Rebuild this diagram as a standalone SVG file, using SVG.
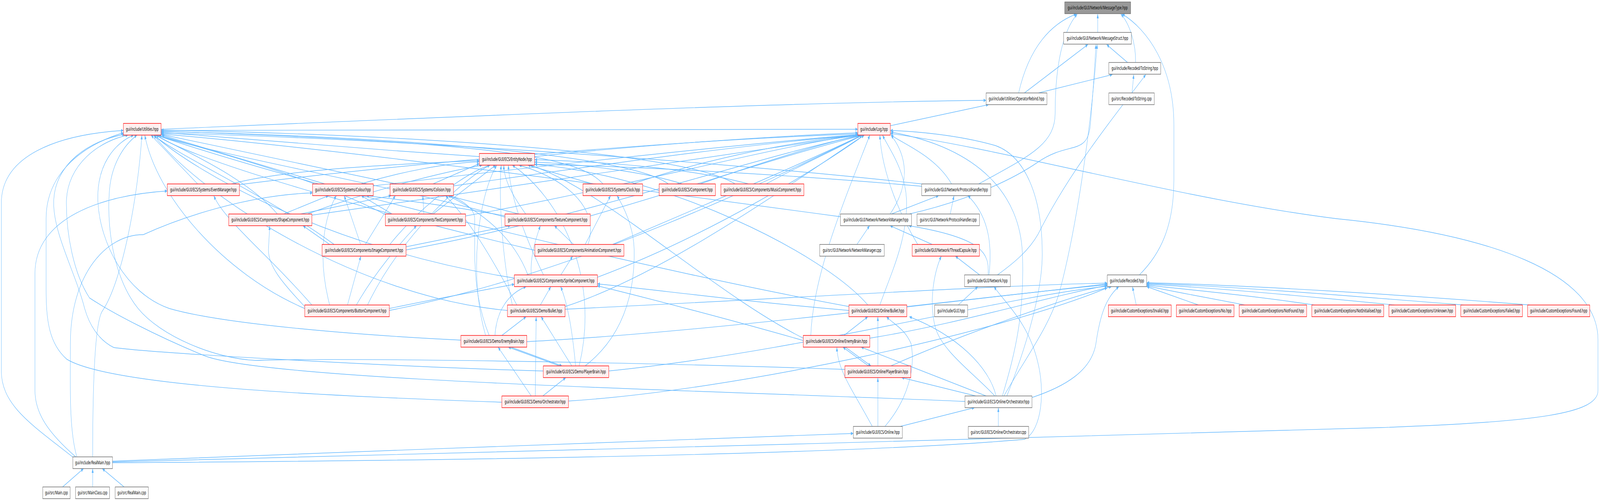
<svg xmlns="http://www.w3.org/2000/svg" width="7183" height="1283" viewBox="0 0 7183 1283" preserveAspectRatio="none">
<style>
:root{width:100vw;height:100vh}
.e{fill:none;stroke:#63b8ff;stroke-width:1.4;marker-end:url(#ah)}
.r rect{fill:#fff0f0;stroke:#ff0000;stroke-width:1.4}
.w rect{fill:#ffffff;stroke:#666666;stroke-width:1.4}
.g rect{fill:#999999;stroke:#666666;stroke-width:1.4}
text{font-family:"Noto Sans","DejaVu Sans",sans-serif;font-size:13px;text-anchor:middle;fill:#000000}
</style>
<defs>
<marker id="ah" viewBox="0 0 11 9" refX="11" refY="4.5" markerWidth="11" markerHeight="9" orient="auto" markerUnits="userSpaceOnUse"><path d="M0,0 L11,4.5 L0,9 z" fill="#63b8ff"/></marker>
</defs>
<rect width="7183" height="1283" fill="#ffffff"/>
<g id="connectors">
<path class="e" d="M4928,83 L4928,36"/>
<path class="e" d="M5098,160 C5100,110 5070,60 5032,36"/>
<path class="e" d="M5062,160 L4968,114"/>
<path class="e" d="M4573,238 C4620,120 4720,60 4832,36"/>
<path class="e" d="M4599,238 L4884,114"/>
<path class="e" d="M4662,238 L4994,191"/>
<path class="e" d="M5082,238 L5090,191"/>
<path class="e" d="M4394,471 C4620,400 4737,370 4737,290 C4737,170 4770,80 4836,36"/>
<path class="e" d="M5115,704 C5210,650 5270,580 5270,460 L5270,320 C5270,170 5150,75 5038,36"/>
<path class="e" d="M4082,548 C4300,520 4520,470 4660,415 C4800,360 4880,400 4895,320 C4905,250 4915,170 4920,114"/>
<path class="e" d="M4507,1014 C4600,920 4720,830 4760,740 C4820,610 4890,380 4926,114"/>
<path class="e" d="M4478,704 C4560,670 4620,640 4660,600 C4800,440 5000,300 5144,191"/>
<path class="e" d="M723,331 C2000,300 3500,262 4427,257"/>
<path class="e" d="M3997,322 L4438,268"/>
<path class="e" d="M723,334 L3851,331"/>
<path class="e" d="M2152,401 C1600,380 900,348 723,339"/>
<path class="e" d="M2400,401 C2900,370 3500,348 3851,340"/>
<path class="e" d="M887,471 L678,346"/>
<path class="e" d="M1039,471 C1300,430 1900,418 2152,411"/>
<path class="e" d="M1073,473 C1800,420 3000,360 3851,343"/>
<path class="e" d="M1458,471 L726,346"/>
<path class="e" d="M1620,471 C1800,440 2000,418 2152,414"/>
<path class="e" d="M1676,476 C2500,420 3400,365 3851,345"/>
<path class="e" d="M1780,471 L723,344"/>
<path class="e" d="M1944,471 L2152,419"/>
<path class="e" d="M2036,476 C2600,430 3300,372 3851,346"/>
<path class="e" d="M2661,471 L2370,423"/>
<path class="e" d="M2707,471 C2600,400 2200,365 723,336"/>
<path class="e" d="M2840,471 C3100,420 3500,365 3855,346"/>
<path class="e" d="M3063,471 C2900,440 2600,420 2400,415"/>
<path class="e" d="M3000,471 C2800,385 1500,345 723,337"/>
<path class="e" d="M3143,471 C3400,420 3700,365 3862,346"/>
<path class="e" d="M3360,471 C3100,430 2700,414 2400,409"/>
<path class="e" d="M3300,471 C3050,380 1600,342 723,333"/>
<path class="e" d="M3440,471 C3600,420 3800,370 3870,346"/>
<path class="e" d="M4272,471 C4200,400 4060,370 4000,346"/>
<path class="e" d="M4138,477 C3500,445 2800,425 2400,421"/>
<path class="e" d="M4138,471 C3000,400 1500,350 723,341"/>
<path class="e" d="M1274,548 L1475,501"/>
<path class="e" d="M1349,548 L1756,501"/>
<path class="e" d="M1245,548 C1100,450 800,380 700,346"/>
<path class="e" d="M1380,548 C1700,480 2000,440 2165,423"/>
<path class="e" d="M1400,551 C2300,480 3300,385 3857,346"/>
<path class="e" d="M1903,548 L1898,501"/>
<path class="e" d="M1760,548 L1622,501"/>
<path class="e" d="M1944,548 L2225,423"/>
<path class="e" d="M1735,551 C1400,450 900,380 712,346"/>
<path class="e" d="M2090,553 C2800,480 3400,385 3857,344"/>
<path class="e" d="M2328,548 L2012,501"/>
<path class="e" d="M2360,548 C2300,500 2262,460 2262,423"/>
<path class="e" d="M2270,553 C2000,525 1800,512 1645,501"/>
<path class="e" d="M2267,556 C1800,480 1000,400 700,346"/>
<path class="e" d="M2650,553 C3100,480 3500,400 3862,348"/>
<path class="e" d="M4002,548 L4214,501"/>
<path class="e" d="M3996,548 C4100,460 4060,390 4000,346"/>
<path class="e" d="M3773,555 C2800,480 1500,380 723,343"/>
<path class="e" d="M4266,548 L4283,501"/>
<path class="e" d="M1619,626 L1545,501"/>
<path class="e" d="M1823,632 L2292,578"/>
<path class="e" d="M1640,626 L1775,501"/>
<path class="e" d="M1500,626 C1200,500 800,400 690,346"/>
<path class="e" d="M1750,626 C1900,520 2100,440 2200,423"/>
<path class="e" d="M1823,640 C2600,560 3400,400 3862,347"/>
<path class="e" d="M1480,626 L1360,578"/>
<path class="e" d="M2575,626 L2489,578"/>
<path class="e" d="M2627,626 L2741,501"/>
<path class="e" d="M2640,626 C2700,520 2500,450 2330,423"/>
<path class="e" d="M2401,641 C1800,560 900,420 700,346"/>
<path class="e" d="M2750,626 C3100,540 3600,420 3870,346"/>
<path class="e" d="M3847,626 L3904,578"/>
<path class="e" d="M4185,626 L3996,578"/>
<path class="e" d="M4120,626 C4050,560 3960,450 3950,346"/>
<path class="e" d="M2518,704 L2571,656"/>
<path class="e" d="M2385,704 C2380,660 2400,620 2426,578"/>
<path class="e" d="M2370,704 C2300,600 2150,540 2012,501"/>
<path class="e" d="M2440,704 C2350,600 2290,500 2282,423"/>
<path class="e" d="M2309,712 C1500,640 900,450 690,346"/>
<path class="e" d="M2682,710 C3200,600 3700,420 3880,346"/>
<path class="e" d="M4398,704 L4289,656"/>
<path class="e" d="M4436,704 C4442,650 4420,610 4080,578"/>
<path class="e" d="M4440,704 C4452,640 4450,560 4345,501"/>
<path class="e" d="M1368,785 C1260,720 1205,680 1205,640 L1211,578"/>
<path class="e" d="M1748,790 C2000,760 2200,740 2309,728"/>
<path class="e" d="M1600,781 C1680,700 1800,620 1870,578"/>
<path class="e" d="M1560,781 L1620,656"/>
<path class="e" d="M1480,781 C1420,650 1460,550 1510,501"/>
<path class="e" d="M1650,781 C1800,600 2100,450 2200,423"/>
<path class="e" d="M1368,790 C1000,700 700,500 650,346"/>
<path class="e" d="M1748,795 C2600,700 3500,450 3870,346"/>
<path class="e" d="M1400,781 C1200,650 1000,560 960,501"/>
<path class="e" d="M2426,781 L2473,734"/>
<path class="e" d="M2300,781 C2250,650 2240,500 2250,423"/>
<path class="e" d="M2278,795 C1600,760 900,500 690,346"/>
<path class="e" d="M2537,785 C3000,700 3600,450 3880,346"/>
<path class="e" d="M2537,792 C3500,765 4500,730 4971,725"/>
<path class="e" d="M2320,781 C2200,650 2100,560 2000,501"/>
<path class="e" d="M4071,786 L4971,727"/>
<path class="e" d="M3811,795 C3300,770 2950,742 2682,727"/>
<path class="e" d="M3896,781 C3700,650 3000,450 2400,421"/>
<path class="e" d="M3950,781 C4000,700 4070,620 4070,520 C4070,440 3990,380 3962,346"/>
<path class="e" d="M3811,785 C3000,700 1500,500 700,346"/>
<path class="e" d="M4302,781 L4390,734"/>
<path class="e" d="M5101,781 L5084,734"/>
<path class="e" d="M5380,781 L5148,734"/>
<path class="e" d="M5588,781 C5400,760 5250,745 5148,732"/>
<path class="e" d="M5900,781 C5600,755 5300,740 5148,730"/>
<path class="e" d="M6260,781 C5800,755 5400,735 5148,728"/>
<path class="e" d="M6570,781 C6000,755 5500,732 5148,726"/>
<path class="e" d="M6868,781 C6300,755 5600,730 5148,724"/>
<path class="e" d="M2253,859 L2362,811"/>
<path class="e" d="M2222,859 C2230,790 2290,750 2362,734"/>
<path class="e" d="M2294,889 L2523,937"/>
<path class="e" d="M2512,937 L2282,889"/>
<path class="e" d="M2567,937 L2429,811"/>
<path class="e" d="M2584,937 C2570,850 2550,780 2517,734"/>
<path class="e" d="M2627,937 C2800,860 2850,750 2847,640 C2845,580 2800,530 2770,501"/>
<path class="e" d="M2403,1014 L2407,811"/>
<path class="e" d="M2385,1014 L2236,889"/>
<path class="e" d="M2437,1014 L2540,967"/>
<path class="e" d="M2196,859 C2140,780 2131,700 2131,640 L2131,560 C2131,530 2060,510 2020,501"/>
<path class="e" d="M2180,859 C2100,700 2150,500 2230,423"/>
<path class="e" d="M2600,937 C2700,700 2500,500 2300,423"/>
<path class="e" d="M3789,859 L3896,811"/>
<path class="e" d="M3640,859 C3650,700 3800,500 3905,346"/>
<path class="e" d="M3606,866 C3200,750 2700,480 2380,423"/>
<path class="e" d="M3606,872 C3300,822 2900,762 2682,732"/>
<path class="e" d="M3905,866 C4300,830 4700,760 4971,731"/>
<path class="e" d="M3899,937 L3784,889"/>
<path class="e" d="M3795,889 L3910,937"/>
<path class="e" d="M3941,937 L3941,811"/>
<path class="e" d="M4000,937 C4300,860 4800,760 4990,734"/>
<path class="e" d="M4381,1014 L4048,967"/>
<path class="e" d="M4427,1014 L3866,889"/>
<path class="e" d="M4472,1014 C4440,940 4300,860 4082,811"/>
<path class="e" d="M4466,1014 C4380,960 4230,900 4200,840 C4170,780 4190,700 4226,656"/>
<path class="e" d="M4633,1018 C4780,990 4900,950 4920,880 C4940,800 4970,760 5023,734"/>
<path class="e" d="M4520,1014 C4600,900 4680,750 4679,650 C4679,500 4600,400 4470,373 C4300,345 4100,336 3997,334"/>
<path class="e" d="M4500,1014 C4560,900 4600,800 4590,650 C4580,500 4400,380 3999,338"/>
<path class="e" d="M4332,1028 C3200,1000 1200,975 918,911 C700,860 500,800 402,763 C330,700 298,600 298,520 C298,420 450,360 575,346"/>
<path class="e" d="M4042,1092 L4375,1044"/>
<path class="e" d="M3941,1092 L3941,967"/>
<path class="e" d="M3916,1092 C3830,1000 3760,950 3757,889"/>
<path class="e" d="M3973,1092 C4080,1020 4110,940 4090,880 C4060,840 4010,830 3980,811"/>
<path class="e" d="M4482,1092 L4482,1044"/>
<path class="e" d="M2069,871 C1600,858 1000,830 760,790 C560,750 450,620 440,520 C430,420 520,365 600,346"/>
<path class="e" d="M2439,950 C1800,940 700,905 511,890 C440,870 400,830 380,790 C340,700 241,600 241,520 C241,420 400,360 560,344"/>
<path class="e" d="M2253,1030 C1500,1015 500,990 300,920 C220,880 207,820 207,740 L207,560 C207,440 380,370 554,340"/>
<path class="e" d="M3793,946 C3000,930 1600,915 1148,923 C960,918 720,860 620,790 C520,720 480,600 490,500 C495,420 560,370 615,346"/>
<path class="e" d="M2365,875 C3200,850 4400,760 4971,729"/>
<path class="e" d="M2733,950 C3600,900 4500,760 4971,733"/>
<path class="e" d="M2552,1027 C3300,1000 4500,850 4971,737"/>
<path class="e" d="M330,1172 C150,1090 6,1040 6,950 L6,520 C6,400 250,345 554,334"/>
<path class="e" d="M340,1170 C220,1110 157,1060 157,1000 L157,700 C157,560 450,500 751,489"/>
<path class="e" d="M416,1170 C416,950 430,820 460,796 C550,720 620,500 637,346"/>
<path class="e" d="M345,1170 C310,1100 316,1000 316,880 C316,700 480,600 643,601 C800,560 1100,500 1403,494"/>
<path class="e" d="M505,1183 C2000,1160 4500,1125 6200,1095 C6900,1080 7174,1060 7174,1000 L7174,870 C7174,700 6700,600 6000,560 C5300,510 4500,380 3997,342"/>
<path class="e" d="M505,1181 C1500,1160 3000,1125 3831,1110"/>
<path class="e" d="M505,1185 C2000,1180 3800,1165 4600,1125 C4680,1100 4690,1000 4660,930 C4620,830 4520,780 4462,734"/>
<path class="e" d="M281,1247 L375,1200"/>
<path class="e" d="M416,1247 L416,1200"/>
<path class="e" d="M557,1247 L459,1200"/>
</g>
<g id="n_MessageType" class="g"><rect x="4780" y="5" width="296" height="30"/><text x="4928" y="24.5">gui/include/GUI/Network/MessageType.hpp</text></g>
<g id="n_MessageStruct" class="w"><rect x="4775" y="83" width="304" height="30"/><text x="4927" y="102.5">gui/include/GUI/Network/MessageStruct.hpp</text></g>
<g id="n_ToString_hpp" class="w"><rect x="4978" y="160" width="233" height="30"/><text x="5094.5" y="179.5">gui/include/Recoded/ToString.hpp</text></g>
<g id="n_OperatorRebind" class="w"><rect x="4427" y="238" width="273" height="30"/><text x="4563.5" y="257.5">gui/include/Utilities/OperatorRebind.hpp</text></g>
<g id="n_ToString_cpp" class="w"><rect x="4978" y="238" width="204" height="30"/><text x="5080" y="257.5">gui/src/Recoded/ToString.cpp</text></g>
<g id="n_Utilities" class="r"><rect x="554" y="316" width="169" height="30"/><text x="638.5" y="335.5">gui/include/Utilities.hpp</text></g>
<g id="n_Log" class="r"><rect x="3851" y="316" width="146" height="30"/><text x="3924" y="335.5">gui/include/Log.hpp</text></g>
<g id="n_EntityNode" class="r"><rect x="2152" y="393" width="248" height="30"/><text x="2276" y="412.5">gui/include/GUI/ECS/EntityNode.hpp</text></g>
<g id="n_EventManager" class="r"><rect x="751" y="471" width="324" height="30"/><text x="913" y="490.5">gui/include/GUI/ECS/Systems/EventManager.hpp</text></g>
<g id="n_Colour" class="r"><rect x="1403" y="471" width="273" height="30"/><text x="1539.5" y="490.5">gui/include/GUI/ECS/Systems/Colour.hpp</text></g>
<g id="n_Colision" class="r"><rect x="1751" y="471" width="285" height="30"/><text x="1893.5" y="490.5">gui/include/GUI/ECS/Systems/Colision.hpp</text></g>
<g id="n_Clock" class="r"><rect x="2617" y="471" width="268" height="30"/><text x="2751" y="490.5">gui/include/GUI/ECS/Systems/Clock.hpp</text></g>
<g id="n_Component" class="r"><rect x="2959" y="471" width="253" height="30"/><text x="3085.5" y="490.5">gui/include/GUI/ECS/Component.hpp</text></g>
<g id="n_MusicComponent" class="r"><rect x="3236" y="471" width="373" height="30"/><text x="3422.5" y="490.5">gui/include/GUI/ECS/Components/MusicComponent.hpp</text></g>
<g id="n_ProtocolHandler_hpp" class="w"><rect x="4138" y="471" width="310" height="30"/><text x="4293" y="490.5">gui/include/GUI/Network/ProtocolHandler.hpp</text></g>
<g id="n_ShapeComponent" class="r"><rect x="1027" y="548" width="373" height="30"/><text x="1213.5" y="567.5">gui/include/GUI/ECS/Components/ShapeComponent.hpp</text></g>
<g id="n_TextComponent" class="r"><rect x="1730" y="548" width="360" height="30"/><text x="1910" y="567.5">gui/include/GUI/ECS/Components/TextComponent.hpp</text></g>
<g id="n_TextureComponent" class="r"><rect x="2267" y="548" width="383" height="30"/><text x="2458.5" y="567.5">gui/include/GUI/ECS/Components/TextureComponent.hpp</text></g>
<g id="n_NetworkManager_hpp" class="w"><rect x="3773" y="548" width="319" height="30"/><text x="3932.5" y="567.5">gui/include/GUI/Network/NetworkManager.hpp</text></g>
<g id="n_ProtocolHandler_cpp" class="w"><rect x="4117" y="548" width="280" height="30"/><text x="4257" y="567.5">gui/src/GUI/Network/ProtocolHandler.cpp</text></g>
<g id="n_ImageComponent" class="r"><rect x="1446" y="626" width="377" height="30"/><text x="1634.5" y="645.5">gui/include/GUI/ECS/Components/ImageComponent.hpp</text></g>
<g id="n_AnimationComponent" class="r"><rect x="2401" y="626" width="400" height="30"/><text x="2601" y="645.5">gui/include/GUI/ECS/Components/AnimationComponent.hpp</text></g>
<g id="n_NetworkManager_cpp" class="w"><rect x="3680" y="626" width="290" height="30"/><text x="3825" y="645.5">gui/src/GUI/Network/NetworkManager.cpp</text></g>
<g id="n_ThreadCapsule" class="r"><rect x="4095" y="626" width="302" height="30"/><text x="4246" y="645.5">gui/include/GUI/Network/ThreadCapsule.hpp</text></g>
<g id="n_SpriteComponent" class="r"><rect x="2309" y="704" width="373" height="30"/><text x="2495.5" y="723.5">gui/include/GUI/ECS/Components/SpriteComponent.hpp</text></g>
<g id="n_Network" class="w"><rect x="4330" y="704" width="206" height="30"/><text x="4433" y="723.5">gui/include/GUI/Network.hpp</text></g>
<g id="n_Recoded" class="w"><rect x="4971" y="704" width="177" height="30"/><text x="5059.5" y="723.5">gui/include/Recoded.hpp</text></g>
<g id="n_ButtonComponent" class="r"><rect x="1368" y="781" width="380" height="30"/><text x="1558" y="800.5">gui/include/GUI/ECS/Components/ButtonComponent.hpp</text></g>
<g id="n_Demo_Bullet" class="r"><rect x="2278" y="781" width="259" height="30"/><text x="2407.5" y="800.5">gui/include/GUI/ECS/Demo/Bullet.hpp</text></g>
<g id="n_Online_Bullet" class="r"><rect x="3811" y="781" width="260" height="30"/><text x="3941" y="800.5">gui/include/GUI/ECS/Online/Bullet.hpp</text></g>
<g id="n_GUI" class="w"><rect x="4196" y="781" width="148" height="30"/><text x="4270" y="800.5">gui/include/GUI.hpp</text></g>
<g id="n_Invalid" class="r"><rect x="4976" y="781" width="282" height="30"/><text x="5117" y="800.5">gui/include/CustomExceptions/Invalid.hpp</text></g>
<g id="n_No" class="r"><rect x="5281" y="781" width="259" height="30"/><text x="5410.5" y="800.5">gui/include/CustomExceptions/No.hpp</text></g>
<g id="n_NotFound" class="r"><rect x="5563" y="781" width="303" height="30"/><text x="5714.5" y="800.5">gui/include/CustomExceptions/NotFound.hpp</text></g>
<g id="n_NotInitialised" class="r"><rect x="5889" y="781" width="323" height="30"/><text x="6050.5" y="800.5">gui/include/CustomExceptions/NotInitialised.hpp</text></g>
<g id="n_Unknown" class="r"><rect x="6235" y="781" width="300" height="30"/><text x="6385" y="800.5">gui/include/CustomExceptions/Unknown.hpp</text></g>
<g id="n_Failed" class="r"><rect x="6558" y="781" width="277" height="30"/><text x="6696.5" y="800.5">gui/include/CustomExceptions/Failed.hpp</text></g>
<g id="n_Found" class="r"><rect x="6858" y="781" width="279" height="30"/><text x="6997.5" y="800.5">gui/include/CustomExceptions/Found.hpp</text></g>
<g id="n_Demo_EnemyBrain" class="r"><rect x="2069" y="859" width="296" height="30"/><text x="2217" y="878.5">gui/include/GUI/ECS/Demo/EnemyBrain.hpp</text></g>
<g id="n_Online_EnemyBrain" class="r"><rect x="3606" y="859" width="299" height="30"/><text x="3755.5" y="878.5">gui/include/GUI/ECS/Online/EnemyBrain.hpp</text></g>
<g id="n_Demo_PlayerBrain" class="r"><rect x="2439" y="937" width="294" height="30"/><text x="2586" y="956.5">gui/include/GUI/ECS/Demo/PlayerBrain.hpp</text></g>
<g id="n_Online_PlayerBrain" class="r"><rect x="3793" y="937" width="296" height="30"/><text x="3941" y="956.5">gui/include/GUI/ECS/Online/PlayerBrain.hpp</text></g>
<g id="n_Demo_Orchestrator" class="r"><rect x="2253" y="1014" width="299" height="30"/><text x="2402.5" y="1033.5">gui/include/GUI/ECS/Demo/Orchestrator.hpp</text></g>
<g id="n_Online_Orchestrator_hpp" class="w"><rect x="4332" y="1014" width="301" height="30"/><text x="4482.5" y="1033.5">gui/include/GUI/ECS/Online/Orchestrator.hpp</text></g>
<g id="n_Online_hpp" class="w"><rect x="3831" y="1092" width="220" height="30"/><text x="3941" y="1111.5">gui/include/GUI/ECS/Online.hpp</text></g>
<g id="n_Online_Orchestrator_cpp" class="w"><rect x="4347" y="1092" width="271" height="30"/><text x="4482.5" y="1111.5">gui/src/GUI/ECS/Online/Orchestrator.cpp</text></g>
<g id="n_RealMain_hpp" class="w"><rect x="327" y="1170" width="178" height="30"/><text x="416" y="1189.5">gui/include/RealMain.hpp</text></g>
<g id="n_Main_cpp" class="w"><rect x="192" y="1247" width="123" height="30"/><text x="253.5" y="1266.5">gui/src/Main.cpp</text></g>
<g id="n_MainClass_cpp" class="w"><rect x="339" y="1247" width="153" height="30"/><text x="415.5" y="1266.5">gui/src/MainClass.cpp</text></g>
<g id="n_RealMain_cpp" class="w"><rect x="517" y="1247" width="149" height="30"/><text x="591.5" y="1266.5">gui/src/RealMain.cpp</text></g>
</svg>
